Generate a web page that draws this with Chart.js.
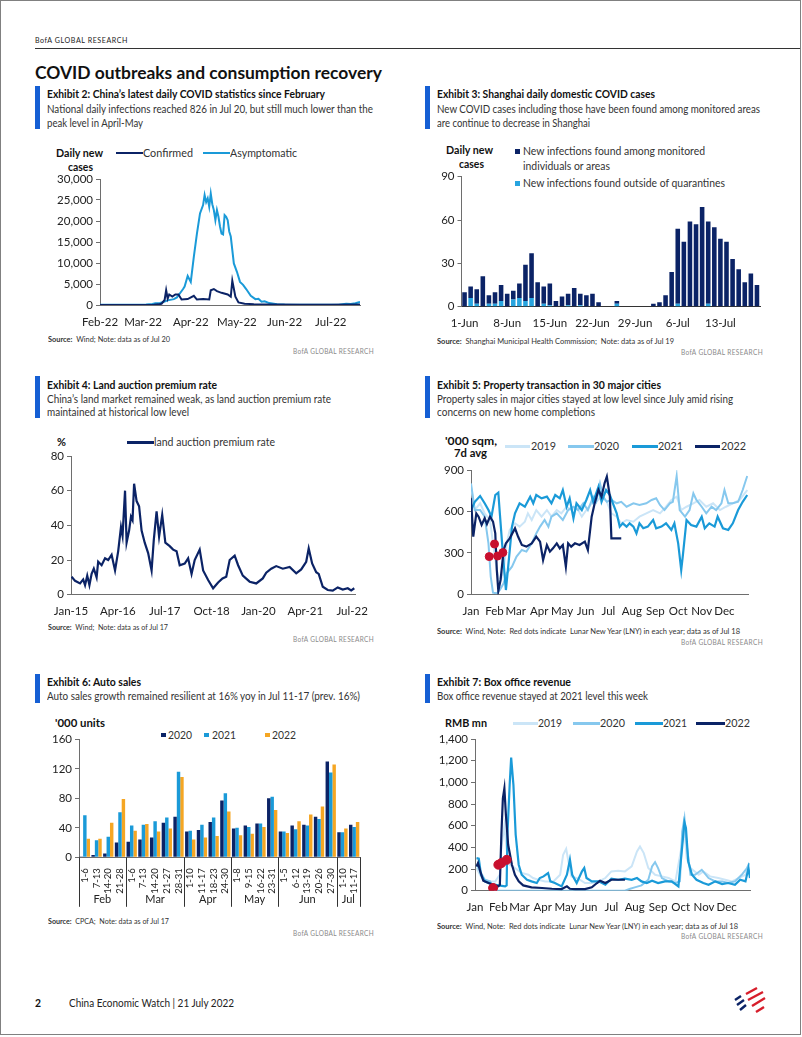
<!DOCTYPE html>
<html><head><meta charset="utf-8">
<script src="https://cdn.jsdelivr.net/npm/chart.js@4.4.1/dist/chart.umd.min.js"></script>
<style>
html,body{margin:0;padding:0;background:#fff;}
body{width:802px;height:1037px;position:relative;overflow:hidden;font-family:Lato,"Open Sans",sans-serif;color:#222;}
.frame{position:absolute;left:0;top:0;width:799px;height:1033px;border:1px solid #808080;}
.tx{position:absolute;left:0;white-space:nowrap;display:inline-block;}
.rc{position:absolute;}
canvas{position:absolute;}
</style></head><body>
<div class="frame"></div>
<svg style="position:absolute;left:732px;top:986px" width="36" height="30" viewBox="0 0 36 30">
 <g stroke-width="2.4" stroke-linecap="butt" fill="none">
  <path d="M14 8 L25 2 M16 14 L31 6 M20 20 L33 12 M24 26 L32 21" stroke="#d71e2b"/>
  <path d="M3 14 L9 10 M5 19 L12 14 M8 24 L14 19" stroke="#0b2366"/>
 </g>
</svg>
<script>
// ---------------- DATA ----------------
// Exhibit 2 (days since 1 Feb 2022)
const covidAsymDay = [0,10,20,30,34,36,39,42,44,48,50,52,54,55,57,59,61,63,65,67,68,69,70,71,72,73,74,75,76,77,78,79,80,81,82,83,84,85,87,89,91,93,95,98,101,103,105,107,110,115,120,130,140,150,155,160,163,166,169];
const covidAsym    = [30,40,60,100,250,400,500,800,1100,1400,1800,2800,3800,4400,6900,5500,11500,17000,21800,23800,26200,24500,25400,23400,26500,24000,22600,20200,22600,21000,18700,17000,16800,21400,21000,20200,17500,16300,9900,7900,5500,4800,3800,2200,1400,1500,800,900,450,200,120,80,70,60,80,300,250,400,700];
const covidConfDay = [0,20,35,38,40,42,43,44,45,47,49,51,53,57,61,63,67,71,72,74,76,79,83,85,86,88,90,94,100,110,130,150,169];
const covidConf    = [0,20,40,150,300,1200,3500,1500,2500,2000,2500,2500,1300,1400,2200,1300,1400,1300,3500,3800,3300,2900,2500,2000,5800,2000,600,300,200,120,70,60,100];
const covidTickDay = [0,28,59,89,120,150];
const covidTickLbl = ['Feb-22','Mar-22','Apr-22','May-22','Jun-22','Jul-22'];

// Exhibit 3 (1 Jun - 19 Jul)
const shOutside   = [0,6,2,0,2,2,4,0,5,6,4,6,0,2,1,0,0,1,0,1,0,0,0,0,0,2,0,0,0,0,0,0,0,0,0,2,0,0,0,0,2,0,0,0,0,0,0,0,0];
const shMonitored = [10,8,10,21,6,8,11,9,6,10,25,31,17,12,15,4,7,8,13,8,8,9,3,0,0,2,0,0,0,0,0,2,3,8,24,52,45,59,57,69,57,55,47,45,33,26,17,23,15];
const shDays = [];
for (let d = 1; d <= 30; d++) shDays.push(d + '-Jun');
for (let d = 1; d <= 19; d++) shDays.push(d + '-Jul');

// Exhibit 4 (months since Jan 2015)
const landMonth = [0.2,1.3,2.9,3.9,4.5,5.2,5.9,6.6,7.3,8.2,8.7,9.8,10.9,11.9,13,14.1,15.1,16,16.5,17.3,17.8,18.6,19.2,19.7,20.2,21,21.8,22.6,23.6,24.7,25.8,26.5,27.4,28.2,29.2,30.2,31.6,32.7,33.8,34.8,36.4,37.5,38.6,39.6,41.2,42.3,43.9,45.5,47.1,48.5,49.7,50.8,52.4,53.5,55,57.2,59.3,61.4,62.5,64.1,65.7,67.8,70,72.1,73.7,75.3,76.1,77.2,78.5,79.3,80.6,82.2,83.8,85.4,87,88.6,89.7,90.7];
const landRate  = [10.4,8,6.5,8.8,5.5,11,5.5,12,15,10,19,17,21,20,23,14,25,39,34,60,30,37,45,43,64,54,51,37,30,24,14,31.5,48,33.5,46,30,28,26,25,17,18,21,12,20,26,14,8.5,3.7,7,9.4,10.4,20,22.5,17,11,7.5,6.5,9.4,12.7,15,16.5,15,16,12.3,14.6,19,26.7,18,13,12,4.6,2.7,2.3,4.2,3,3.7,2.5,3.7];
const landTickM = [0,15,30,45,60,75,90];
const landTickL = ['Jan-15','Apr-16','Jul-17','Oct-18','Jan-20','Apr-21','Jul-22'];

// Shared month ticks (day of year)
const monthDay = [0,31,59,90,120,151,181,212,243,273,304,334];
const monthLbl = ['Jan','Feb','Mar','Apr','May','Jun','Jul','Aug','Sep','Oct','Nov','Dec'];
const lnyDay = [24,31,35,42];

// Exhibit 5 (day of year)
const p2022Day = [0,3,7,10,14,18,21,25,29,32,34,36,39,43,46,51,58,62,67,73,80,86,91,95,100,104,108,113,117,121,125,128,132,137,143,150,154,159,163,168,172,176,179,183,185,190,194,198];
const p2022    = [695,418,586,562,502,550,509,562,526,441,176,24,104,321,369,405,478,418,357,345,369,418,381,248,357,309,333,369,333,357,200,369,345,369,357,381,321,562,659,755,707,804,852,707,405,405,405,405];
const p2021Day = [0,5,12,18,23,27,32,36,38,43,46,49,54,58,64,71,78,82,86,93,100,106,111,117,121,126,130,135,139,146,152,157,161,168,172,178,183,187,192,196,200,205,209,214,218,222,227,233,240,244,251,257,264,268,273,277,279,284,290,297,304,308,314,321,325,332,339,345,352,358,364];
const p2021    = [610,670,712,659,610,562,719,736,586,224,31,200,490,586,659,634,707,659,719,695,707,659,719,695,755,634,695,550,659,610,683,755,670,779,670,755,719,659,586,490,514,490,514,490,441,514,478,490,538,478,490,514,466,514,369,176,273,538,502,490,562,478,514,490,562,478,466,514,610,670,719];
const p2020Day = [0,5,12,18,23,26,29,34,38,43,47,54,60,67,73,80,86,91,97,102,106,113,117,121,128,135,141,148,154,161,165,170,174,179,185,192,198,205,214,222,231,238,244,249,255,262,266,271,275,282,288,293,297,304,310,317,323,330,334,339,345,352,358,364];
const p2020    = [803,610,610,562,369,128,12,7,31,80,152,200,273,321,309,369,441,490,538,490,562,586,562,538,610,634,610,659,610,707,670,803,707,670,683,659,670,634,659,647,659,683,695,647,610,659,670,857,610,562,610,731,683,634,586,634,610,659,755,659,659,670,755,857];
const p2019Day = [0,5,12,18,25,29,34,38,43,47,51,58,64,71,75,80,86,93,100,106,113,119,126,132,139,146,152,159,165,172,179,185,192,198,205,214,222,231,240,249,257,264,271,277,284,293,301,310,319,328,336,345,354,364];
const p2019    = [779,610,659,586,538,369,176,80,176,369,466,514,490,526,586,538,610,562,610,562,610,586,634,610,634,562,610,659,670,707,670,586,562,514,538,526,562,586,610,586,634,683,707,610,634,659,683,634,659,610,634,659,683,755];
const lnyProp = [273,364,277,302];

// Exhibit 6
const autoWeeks = ['1-6','7-13','14-20','21-28','1-6','7-13','14-20','21-27','28-31','1-10','11-17','18-23','24-30','1-8','9-15','16-22','23-31','1-5','6-12','13-19','20-26','27-30','1-10','11-17'];
const autoMonths = ['Feb','Mar','Apr','May','Jun','Jul'];
const autoMonthSizes = [4,5,4,4,5,2];
const auto2020 = [1,3,5,20,21,24,27,47,55,35,37,48,77,39,43,46,80,35,43,44,55,130,34,44];
const auto2021 = [57,23,28,61,43,44,49,54,116,36,44,54,87,40,41,46,82,35,38,43,52,115,34,41];
const auto2022 = [25,25,47,79,36,45,35,39,109,24,27,29,62,30,32,41,64,33,49,58,69,126,39,48];

// Exhibit 7 (day of year)
const b2022Day = [2,4,7,11,18,24,31,33,35,37,39,41,44,49,53,58,64,75,89,102,115,122,126,133,146,155,162,166,173,181,190,199];
const b2022    = [224,255,178,92,71,55,40,55,516,853,945,700,424,240,147,86,49,31,25,18,15,40,18,15,15,31,71,92,71,101,101,101];
const b2021Day = [2,5,8,13,22,31,40,42,43,46,48,51,54,58,62,69,75,82,86,91,97,100,106,115,122,126,129,135,142,145,148,155,164,173,181,190,199,208,215,221,228,235,243,252,261,270,274,278,280,283,288,294,303,310,319,328,336,345,352,359,363,365];
const b2021    = [300,295,147,86,61,49,40,49,516,976,1228,976,516,240,147,101,86,71,117,132,163,86,71,40,147,286,147,71,178,209,117,86,86,55,111,101,111,101,117,86,71,92,71,86,86,40,332,632,577,270,147,101,71,55,86,61,71,55,101,86,209,117];
const b2020Day = [2,7,13,20,24,27,60,120,199,206,212,221,230,235,239,243,248,257,266,272,275,278,281,286,292,301,310,319,328,336,345,354,361,364];
const b2020    = [240,178,101,86,40,0,0,0,0,18,31,49,101,224,264,209,117,86,71,86,546,669,424,147,147,193,117,86,86,71,86,147,209,255];
const b2019Day = [2,9,18,27,33,35,39,41,44,53,62,71,77,84,93,104,113,117,121,124,128,137,146,155,164,173,181,190,199,208,215,219,224,230,239,248,257,266,274,278,281,286,297,303,312,323,332,341,350,359,363];
const b2019    = [209,117,86,86,150,400,600,450,250,209,163,147,117,101,86,86,147,332,387,270,132,111,71,71,86,117,178,184,178,224,362,408,347,209,147,132,117,86,400,560,300,209,147,178,132,117,101,86,117,147,240];
const lnyBox = [25,240,255,285];

// ---------------- STYLE ----------------
const NAVY='#0b2366', BLUE='#1a9ad8', LIGHT='#86c8ee', PALE='#cbe5f7', ORANGE='#f5a623', RED='#c8102e', SHL='#27a4df', AX='#6e6e6e', ACC='#155fd4';

// ---------------- TEXT & DECOR ----------------
const SRC = (t)=>'<b>Source:</b>&nbsp; '+t;
const TXT = [
 ['BofA GLOBAL RESEARCH',35,41,7.5,0,93,'l','#222',0.6],
 ['COVID outbreaks and consumption recovery',35,75,16.5,1,347,'l','#111',0],
 ['Exhibit 2: China’s latest daily COVID statistics since February',47,95,10.5,1,278,'l','#111'],
 ['National daily infections reached 826 in Jul 20, but still much lower than the',47,110,10.5,0,326,'l','#333'],
 ['peak level in April-May',47,124,10.5,0,96,'l','#333'],
 ['Exhibit 3: Shanghai daily domestic COVID cases',437,95,10.5,1,218,'l','#111'],
 ['New COVID cases including those have been found among monitored areas',437,110,10.5,0,323,'l','#333'],
 ['are continue to decrease in Shanghai',437,124,10.5,0,153,'l','#333'],
 ['Exhibit 4: Land auction premium rate',47,385.5,10.5,1,170,'l','#111'],
 ['China’s land market remained weak, as land auction premium rate',47,399.5,10.5,0,284,'l','#333'],
 ['maintained at historical low level',47,413,10.5,0,142,'l','#333'],
 ['Exhibit 5: Property transaction in 30 major cities',437,385.5,10.5,1,224,'l','#111'],
 ['Property sales in major cities stayed at low level since July amid rising',437,399.5,10.5,0,296,'l','#333'],
 ['concerns on new home completions',437,413,10.5,0,158,'l','#333'],
 ['Exhibit 6: Auto sales',47,683.3,10.5,1,94,'l','#111'],
 ['Auto sales growth remained resilient at 16% yoy in Jul 11-17 (prev. 16%)',47,697,10.5,0,313,'l','#333'],
 ['Exhibit 7: Box office revenue',437,683.3,10.5,1,134,'l','#111'],
 ['Box office revenue stayed at 2021 level this week',437,697,10.5,0,211,'l','#333'],
 // chart 2 labels
 ['Daily new',79.5,153,11.5,1,47,'c'],['cases',80,167,11.5,1,25,'c'],
 ['Confirmed',143,153,11.5,0,50,'l','#333'],['Asymptomatic',230,153,11.5,0,67,'l','#333'],
 // chart 3 labels
 ['Daily new',469.5,150.5,11.5,1,47,'c'],['cases',471,164,11.5,1,25,'c'],
 ['New infections found among monitored',523,151.5,11.5,0,182,'l','#333'],
 ['individuals or areas',523,166,11.5,0,87,'l','#333'],
 ['New infections found outside of quarantines',523,183.5,11.5,0,202,'l','#333'],
 // chart 4
 ['%',61.5,442.5,11.5,1,9,'c'],['land auction premium rate',154,442.5,11.5,0,121,'l','#333'],
 // chart 5
 ['\'000 sqm,',471,441,11.5,1,52,'c'],['7d avg',470,453,11.5,1,33,'c'],
 ['2019',530.5,446.5,11.5,0,25,'l','#333'],['2020',594,446.5,11.5,0,25,'l','#333'],['2021',658,446.5,11.5,0,25,'l','#333'],['2022',720.5,446.5,11.5,0,25,'l','#333'],
 // chart 6
 ['\'000 units',55,723.3,11.5,1,50,'l'],
 ['2020',168.3,735,11.5,0,24,'l','#333'],['2021',211.5,735,11.5,0,24,'l','#333'],['2022',272,735,11.5,0,24,'l','#333'],
 // chart 7
 ['RMB mn',445,723.3,11.5,1,42,'l'],
 ['2019',538.3,723.3,11.5,0,24,'l','#333'],['2020',600,723.3,11.5,0,25,'l','#333'],['2021',663.3,723.3,11.5,0,24,'l','#333'],['2022',725,723.3,11.5,0,25,'l','#333'],
 // sources
 [SRC('Wind; Note: data as of Jul 20'),48,340,7.5,0,122,'l','#333'],
 ['BofA GLOBAL RESEARCH',374,352,7.5,0,81,'r','#8a8a8a',0.4],
 [SRC('Shanghai Municipal Health Commission;&nbsp; Note: data as of Jul 19'),437,341.5,7.5,0,237,'l','#333'],
 ['BofA GLOBAL RESEARCH',763.3,352.5,7.5,0,82,'r','#8a8a8a',0.4],
 [SRC('Wind;&nbsp; Note: data as of Jul 17'),48,628.3,7.5,0,120,'l','#333'],
 ['BofA GLOBAL RESEARCH',374,640,7.5,0,81,'r','#8a8a8a',0.4],
 [SRC('Wind, Note:&nbsp; Red dots indicate&nbsp; Lunar New Year (LNY) in each year; data as of Jul 18'),437.3,632.3,7.5,0,303,'l','#333'],
 ['BofA GLOBAL RESEARCH',763.3,643.3,7.5,0,82,'r','#8a8a8a',0.4],
 [SRC('CPCA;&nbsp; Note: data as of Jul 17'),48,922.3,7.5,0,121,'l','#333'],
 ['BofA GLOBAL RESEARCH',374,934,7.5,0,81,'r','#8a8a8a',0.4],
 [SRC('Wind, Note:&nbsp; Red dots indicate&nbsp; Lunar New Year (LNY) in each year; data as of Jul 18'),437.3,926.7,7.5,0,301,'l','#333'],
 ['BofA GLOBAL RESEARCH',763.3,936.7,7.5,0,82,'r','#8a8a8a',0.4],
 // footer
 ['2',35,1003,11,1,6,'l'],['China Economic Watch | 21 July 2022',69,1003,11,0,165,'l','#222']
];
for (const [h,x,cy,fs,b,w,al,col,ls] of TXT) {
  const d=document.createElement('div'); d.className='tx'; d.innerHTML=h;
  d.style.fontSize=fs+'px'; d.style.lineHeight=(fs*1.2)+'px';
  d.style.fontWeight=b?'700':'400'; d.style.color=col||'#111';
  if (ls) d.style.letterSpacing=ls+'px';
  d.style.top=(cy-0.65*fs)+'px';
  d.dataset.w=w; d.dataset.x=x; d.dataset.al=al||'l';
  document.body.appendChild(d);
}
function fitTexts(){
  document.querySelectorAll('.tx').forEach(d=>{
    d.style.transform='none';
    const w=d.getBoundingClientRect().width, t=+d.dataset.w, x=+d.dataset.x, al=d.dataset.al;
    let s=t/w; s=Math.max(0.7,Math.min(1.3,s));
    d.style.transformOrigin='0 0'; d.style.transform='scaleX('+s+')';
    const tw=w*s;
    d.style.left=(al==='l'?x:al==='c'?x-tw/2:x-tw)+'px';
  });
}
const RECTS = [
 [35,48,765,1,'#333'],
 [35,86,5,43,ACC],[425,86,5,43,ACC],[35,376,5,42,ACC],[425,376,5,42,ACC],[35,674,5,29,ACC],[425,674,5,29,ACC],
 [116,151.8,27,2.5,NAVY],[203,151.8,27,2.5,BLUE],
 [515,149,5,5,NAVY],[515,181,5,5,SHL],
 [127,441.3,27,2.5,NAVY],
 [505,445,25,3,PALE],[568,445,25.5,3,LIGHT],[632,445,25.5,3,BLUE],[695,445,25,3,NAVY],
 [161,732.5,4.5,4.5,NAVY],[204,732.5,4.5,4.5,BLUE],[265,732.5,4.5,4.5,ORANGE],
 [513.3,722,25,3,PALE],[573.3,722,26.7,3,LIGHT],[635,722,28.3,3,BLUE],[696,722,29,3,NAVY]
];
for (const [x,y,w,h,c] of RECTS){ const r=document.createElement('div'); r.className='rc'; Object.assign(r.style,{left:x+'px',top:y+'px',width:w+'px',height:h+'px',background:c}); document.body.appendChild(r); }
fitTexts();
if (document.fonts && document.fonts.ready) document.fonts.ready.then(fitTexts);

// ---------------- CHARTS ----------------
Chart.defaults.font.family='Lato, "Open Sans", sans-serif';
Chart.defaults.font.size=11.5;
Chart.defaults.color='#222';

const pts=(xs,ys)=>xs.map((x,i)=>({x:x,y:ys[i]}));
function yAxis(max,step,fmt){ return {
  type:'linear',min:0,max:max,
  ticks:{stepSize:step,padding:3,color:'#222',font:{size:11.5},callback:fmt||(v=>v)},
  grid:{drawOnChartArea:false,drawTicks:true,tickLength:4,color:AX,lineWidth:1},
  border:{display:true,color:AX,width:1}
};}
function xLin(min,max,tv,tl){ return {
  type:'linear',min:min,max:max,
  afterBuildTicks:s=>{ s.ticks=tv.map(v=>({value:v})); },
  ticks:{autoSkip:false,maxRotation:0,padding:2,color:'#222',font:{size:11.5},callback:(v,i)=>tl[i]},
  grid:{display:false},border:{display:true,color:AX,width:1}
};}
function line(label,data,color,w){ return {label:label,data:data,borderColor:color,backgroundColor:color,borderWidth:w,pointRadius:0,tension:0,fill:false}; }
function dots(data,r){ return {type:'scatter',label:'LNY',data:data,backgroundColor:RED,borderColor:RED,pointRadius:r,showLine:false}; }
function mk(box,area,config){
  const c=document.createElement('canvas');
  c.width=box.w; c.height=box.h;
  Object.assign(c.style,{left:box.l+'px',top:box.t+'px',width:box.w+'px',height:box.h+'px'});
  document.body.appendChild(c);
  const o=config.options;
  o.responsive=false; o.animation=false; o.devicePixelRatio=1; o.maintainAspectRatio=false;
  o.layout={padding:{top:area.t-box.t,right:box.l+box.w-area.r,left:0,bottom:0}};
  o.plugins=Object.assign({legend:{display:false},tooltip:{enabled:false}},o.plugins||{});
  o.scales.x.afterFit=s=>{ s.height=box.t+box.h-area.b; };
  o.scales.y.afterFit=s=>{ s.width=area.l-box.l; };
  return new Chart(c,config);
}
const comma=v=>v.toLocaleString('en-US');

// Exhibit 2
mk({l:40,t:168,w:330,h:168},{l:100,t:179,r:360,b:305},{
  type:'line',
  data:{datasets:[ line('Confirmed',pts(covidConfDay,covidConf),NAVY,2), line('Asymptomatic',pts(covidAsymDay,covidAsym),BLUE,2) ]},
  options:{scales:{x:xLin(0,169,covidTickDay,covidTickLbl), y:yAxis(30000,5000,comma)}}
});

// Exhibit 3
mk({l:420,t:166,w:355,h:172},{l:461.5,t:176.7,r:760,b:306.7},{
  type:'bar',
  data:{labels:shDays,datasets:[
    {label:'New infections found outside of quarantines',data:shOutside,backgroundColor:SHL,stack:'s'},
    {label:'New infections found among monitored individuals or areas',data:shMonitored,backgroundColor:NAVY,stack:'s'}]},
  options:{
    datasets:{bar:{barPercentage:0.75,categoryPercentage:1}},
    scales:{
      x:{type:'category',stacked:true,offset:true,ticks:{autoSkip:false,maxRotation:0,minRotation:0,padding:2,color:'#222',font:{size:11.5},callback:(v,i)=>i%7===0?shDays[i]:''},grid:{display:false},border:{display:true,color:'#333',width:1}},
      y:Object.assign(yAxis(90,30),{stacked:true})
    }}
});

// Exhibit 4
mk({l:25,t:446,w:345,h:176},{l:71,t:456,r:355.5,b:594.7},{
  type:'line',
  data:{datasets:[ line('land auction premium rate',pts(landMonth,landRate),NAVY,2.2) ]},
  options:{scales:{x:xLin(0,91,landTickM,landTickL), y:yAxis(80,20)}}
});

// Exhibit 5
mk({l:425,t:460,w:335,h:162},{l:471,t:470,r:748,b:594.3},{
  type:'line',
  data:{datasets:[
    dots(pts(lnyDay,lnyProp),4),
    line('2022',pts(p2022Day,p2022),NAVY,2.2),
    line('2021',pts(p2021Day,p2021),BLUE,2.2),
    line('2020',pts(p2020Day,p2020),LIGHT,2),
    line('2019',pts(p2019Day,p2019),PALE,2)]},
  options:{scales:{x:xLin(0,365,monthDay,monthLbl), y:yAxis(900,300)}}
});

// Exhibit 6
const sepPlugin={id:'sep',afterDraw(chart){
  const x=chart.scales.x, ctx=chart.ctx, y0=chart.chartArea.bottom;
  const b=[-0.5]; let k=0; autoMonthSizes.forEach(n=>{k+=n;b.push(k-0.5);});
  ctx.save(); ctx.strokeStyle='#333'; ctx.lineWidth=1;
  b.forEach(v=>{const px=Math.round(x.getPixelForValue(v))+0.5; ctx.beginPath(); ctx.moveTo(px,y0); ctx.lineTo(px,y0+49.5); ctx.stroke();});
  ctx.fillStyle='#222'; ctx.font='11px Lato, "Open Sans", sans-serif'; ctx.textAlign='center'; ctx.textBaseline='middle';
  for(let i=0;i<autoMonths.length;i++){ const a=x.getPixelForValue(b[i]), c=x.getPixelForValue(b[i+1]); ctx.fillText(autoMonths[i],(a+c)/2,y0+42.5); }
  ctx.restore();
}};
mk({l:35,t:729,w:335,h:185},{l:79,t:739.3,r:360,b:857.3},{
  type:'bar',
  data:{labels:autoWeeks,datasets:[
    {label:'2020',data:auto2020,backgroundColor:NAVY},
    {label:'2021',data:auto2021,backgroundColor:BLUE},
    {label:'2022',data:auto2022,backgroundColor:ORANGE}]},
  options:{
    datasets:{bar:{categoryPercentage:0.88,barPercentage:1}},
    scales:{
      x:{type:'category',offset:true,ticks:{autoSkip:false,minRotation:90,maxRotation:90,padding:3,color:'#222',font:{size:9.5}},grid:{display:false},border:{display:true,color:AX,width:1}},
      y:yAxis(160,40)
    }},
  plugins:[sepPlugin]
});

// Exhibit 7
mk({l:425,t:729,w:335,h:190},{l:475,t:739,r:750,b:890.7},{
  type:'line',
  data:{datasets:[
    dots(pts(lnyDay,lnyBox),4.5),
    line('2022',pts(b2022Day,b2022),NAVY,2.2),
    line('2021',pts(b2021Day,b2021),BLUE,2.2),
    line('2020',pts(b2020Day,b2020),LIGHT,2),
    line('2019',pts(b2019Day,b2019),PALE,2)]},
  options:{scales:{x:xLin(0,365,monthDay,monthLbl), y:yAxis(1400,200,comma)}}
});
</script>
</body></html>
